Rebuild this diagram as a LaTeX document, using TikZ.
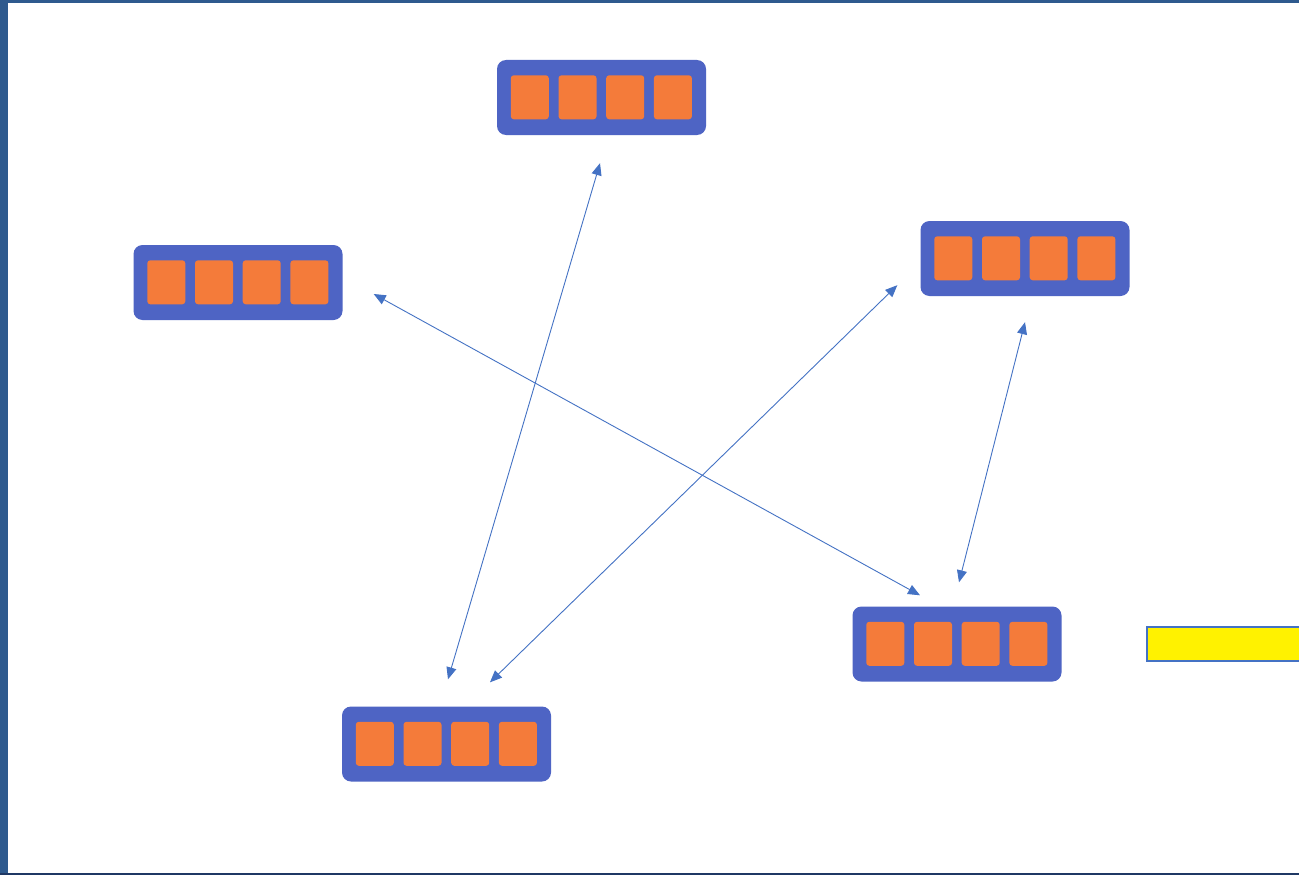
\documentclass[tikz,border=0pt]{standalone}
\usetikzlibrary{arrows.meta}
\definecolor{frameblue}{RGB}{46,90,142}
\definecolor{framedark}{RGB}{31,56,100}
\definecolor{boxblue}{RGB}{78,100,196}
\definecolor{sqorange}{RGB}{244,123,58}
\definecolor{arrblue}{RGB}{68,114,196}
\tikzset{
  holder/.style={draw=none,fill=boxblue,rounded corners=9pt,minimum width=209pt,minimum height=75pt,inner sep=0pt},
  cell/.style={fill=sqorange,rounded corners=3pt},
  arr/.style={draw=arrblue,line width=0.9pt,{Triangle[length=12pt,width=10pt]}-{Triangle[length=12pt,width=10pt]}},
}
\newcommand{\cellrow}[1]{%
  \foreach \k in {0,1,2,3}{
    \fill[cell] ([xshift={14pt+\k*47.7pt},yshift=-15.5pt]#1.north west) rectangle ++(38pt,-44pt);
  }}
\begin{document}
\begin{tikzpicture}[x=1pt,y=-1pt]
\useasboundingbox (0,0) rectangle (1299,875);
\fill[white] (0,0) rectangle (1299,875);
\fill[frameblue] (0,0) rectangle (8,875);
\fill[frameblue] (0,0) rectangle (1299,3);
\fill[framedark] (0,873) rectangle (1299,875);
\node[holder] (top) at (601.5,97.5) {};
\node[holder] (left) at (238,282.5) {};
\node[holder] (right) at (1025,258.5) {};
\node[holder] (br) at (957,644) {};
\node[holder] (bot) at (446.5,744) {};
\cellrow{top}
\cellrow{left}
\cellrow{right}
\cellrow{br}
\cellrow{bot}
\node[draw=arrblue,line width=2pt,fill=yellow,minimum width=170pt,minimum height=34pt,inner sep=0pt,anchor=north west] (note) at (1146,626) {};
\draw[arr] ([xshift=-1.5pt,yshift=-28pt]top.south) -- ([xshift=1.5pt,yshift=27pt]bot.north);
\draw[arr] ([xshift=31pt,yshift=-11.5pt]left.east) -- ([xshift=-37pt,yshift=11pt]br.north);
\draw[arr] ([xshift=-23pt,yshift=11pt]right.south west) -- ([xshift=43.5pt,yshift=24pt]bot.north);
\draw[arr] ([yshift=-26pt]right.south) -- ([xshift=2pt,yshift=24pt]br.north);
\end{tikzpicture}
\end{document}
